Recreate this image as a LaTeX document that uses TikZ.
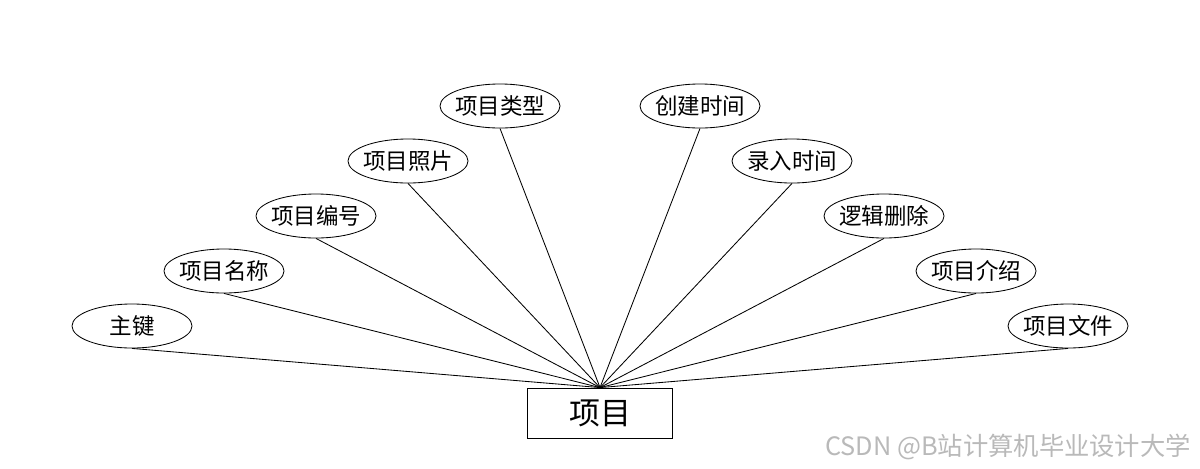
\documentclass[tikz,border=0pt]{standalone}
\usepackage{fontspec}
\setmainfont{Noto Sans CJK SC}
\usetikzlibrary{shapes.geometric}

\def\attrWidth{3}
\def\attrHeight{1.1}
\def\itemWidth{3.625}
\def\itemHeight{1.25}

\begin{document}
\begin{tikzpicture}[
    x = 0.025cm, y = -0.025cm,
    line width = 0.6pt,
    attr/.style = {ellipse, draw, inner sep = 0pt,
        minimum width = \attrWidth cm, minimum height = \attrHeight cm,
        font = \fontsize{16}{16}\selectfont},
    entity/.style = {draw, inner sep = 0pt,
        minimum width = \itemWidth cm, minimum height = \itemHeight cm,
        font = \fontsize{22}{22}\selectfont}
    ]
    \useasboundingbox (0,0) rectangle (1200,468);
    \node [entity] (item) at (600,413) {项目};
    %% attributes
    \foreach \name/\label/\x/\y in {
        key/主键/132/326,
        title/项目名称/224/271,
        code/项目编号/316/216,
        photo/项目照片/408/161,
        kind/项目类型/500/106,
        created/创建时间/700/106,
        entered/录入时间/792/161,
        deleted/逻辑删除/884/216,
        intro/项目介绍/976/271,
        file/项目文件/1068/326} {
        \node [attr] (\name) at (\x,\y) {\makebox[0pt]{\label}};
        \draw (\name.south) -- (item.north);
    }
    \node [text = gray!55, font = \fontsize{18}{18}\selectfont, anchor = east]
        (mark) at (1196,447) {CSDN @B站计算机毕业设计大学};
\end{tikzpicture}
\end{document}
